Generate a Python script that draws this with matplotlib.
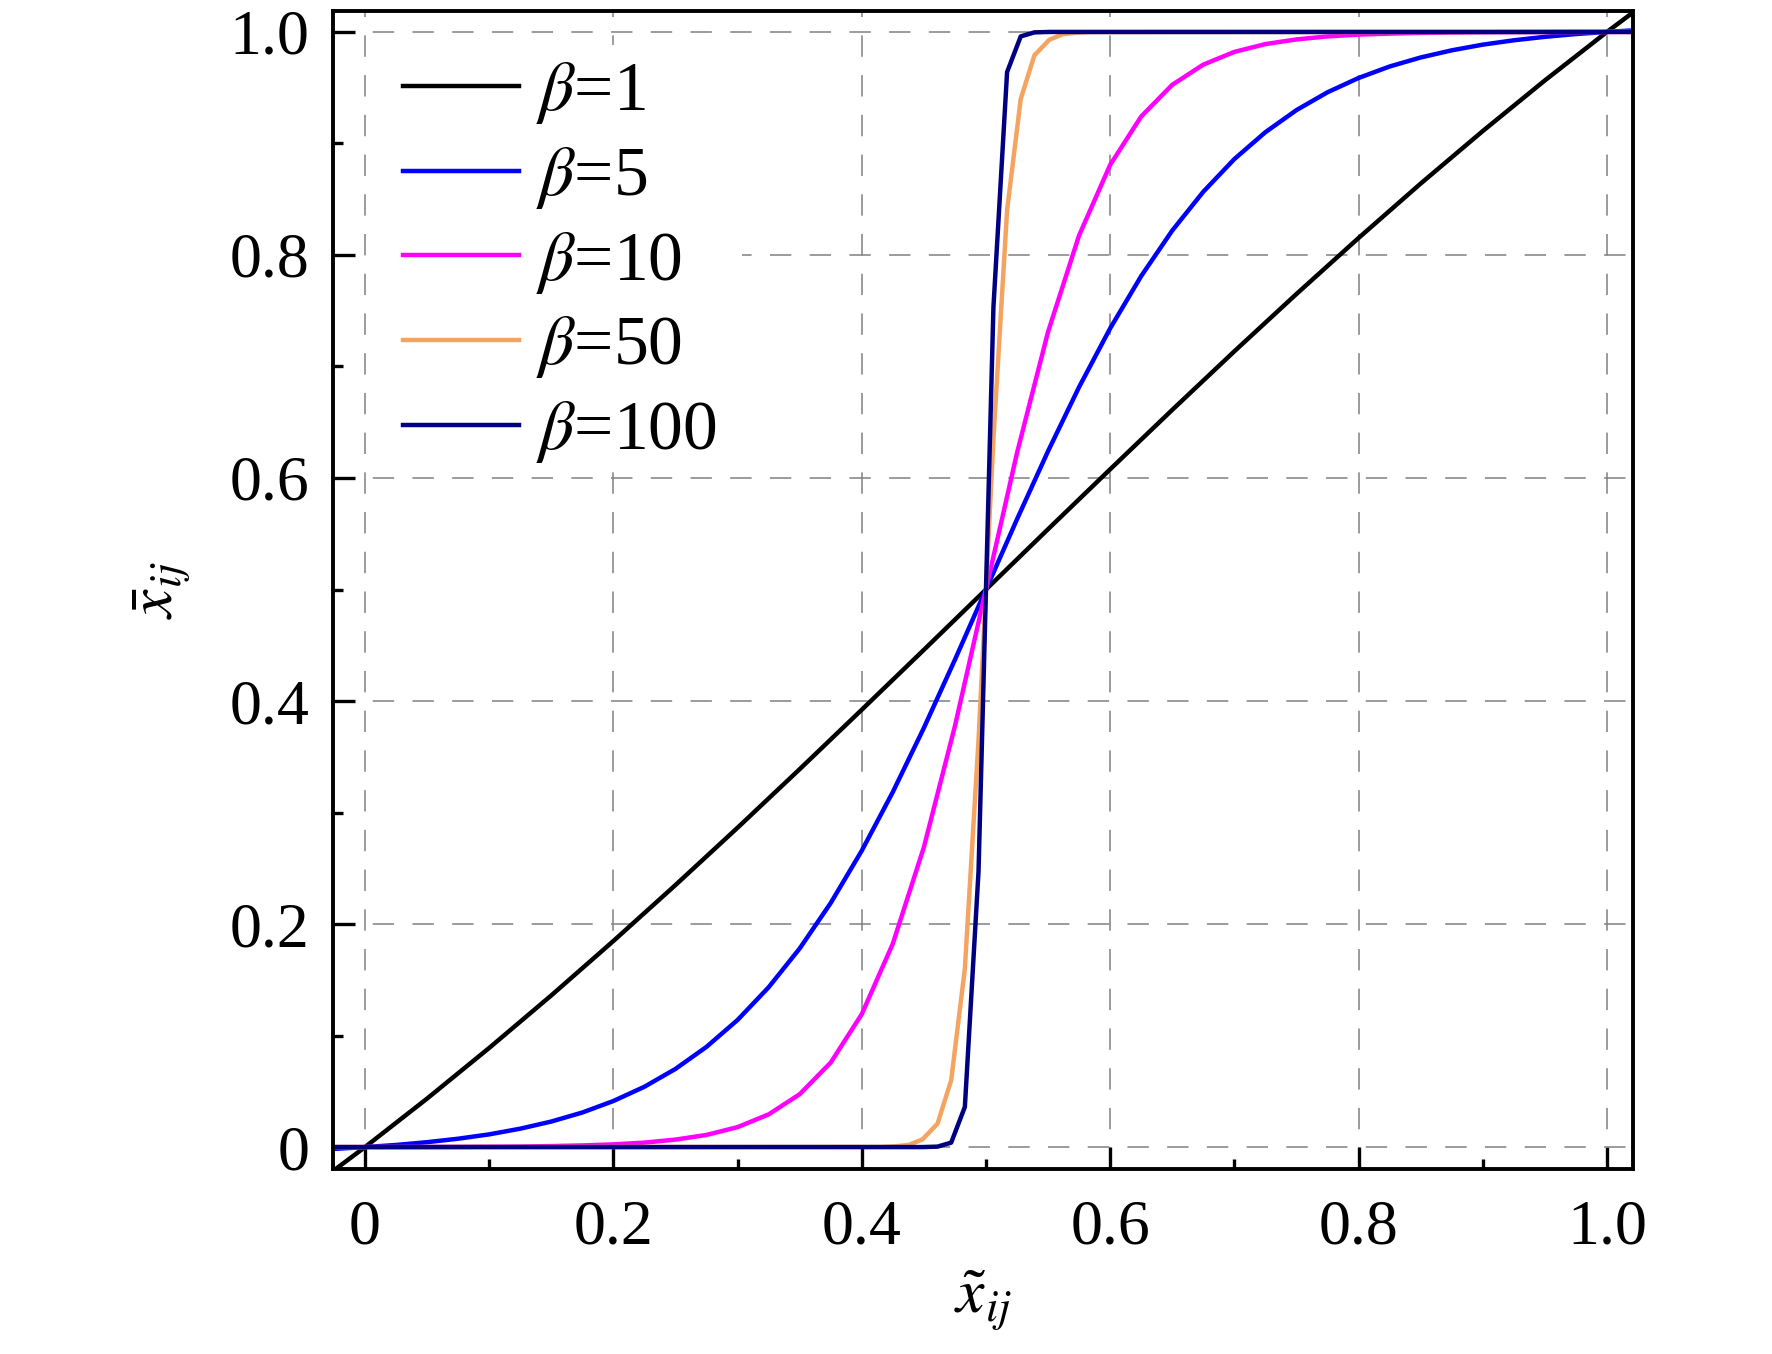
import numpy as np
import matplotlib
matplotlib.use("Agg")
import matplotlib.pyplot as plt
from matplotlib.patches import Rectangle
from matplotlib.ticker import MultipleLocator, FuncFormatter

plt.rcParams["font.family"] = ["Liberation Serif", "DejaVu Serif"]
plt.rcParams["mathtext.fontset"] = "stix"

# beta = 1 (almost straight), read every 0.05
x_b1 = [-0.03, 0.0, 0.05, 0.1, 0.15, 0.2, 0.25, 0.3, 0.35, 0.4, 0.45, 0.5,
        0.55, 0.6, 0.65, 0.7, 0.75, 0.8, 0.85, 0.9, 0.95, 1.0, 1.03]
y_b1 = [-0.025, 0.0, 0.0435, 0.0889, 0.1360, 0.1848, 0.2350, 0.2864, 0.3389,
        0.3922, 0.4459, 0.5, 0.5541, 0.6078, 0.6611, 0.7136, 0.7650, 0.8152,
        0.8640, 0.9111, 0.9565, 1.0, 1.025]

# beta = 5 and beta = 10, read every 0.025
x_smooth = [-0.03, 0.0, 0.025, 0.05, 0.075, 0.1, 0.125, 0.15, 0.175, 0.2,
            0.225, 0.25, 0.275, 0.3, 0.325, 0.35, 0.375, 0.4, 0.425, 0.45,
            0.475, 0.5, 0.525, 0.55, 0.575, 0.6, 0.625, 0.65, 0.675, 0.7,
            0.725, 0.75, 0.775, 0.8, 0.825, 0.85, 0.875, 0.9, 0.925, 0.95,
            0.975, 1.0, 1.03]
y_b5 = [-0.002, 0.0, 0.0019, 0.0044, 0.0075, 0.0114, 0.0165, 0.0229, 0.0310,
        0.0413, 0.0541, 0.0701, 0.0899, 0.1140, 0.1433, 0.1781, 0.2189,
        0.2658, 0.3184, 0.3759, 0.4370, 0.5, 0.5630, 0.6241, 0.6816, 0.7342,
        0.7811, 0.8219, 0.8567, 0.8860, 0.9101, 0.9299, 0.9459, 0.9587,
        0.9690, 0.9771, 0.9835, 0.9886, 0.9925, 0.9956, 0.9981, 1.0, 1.002]
y_b10 = [0.0, 0.0, 0.0, 0.0001, 0.0002, 0.0003, 0.0005, 0.0009, 0.0015,
         0.0024, 0.0040, 0.0067, 0.0109, 0.0179, 0.0293, 0.0474, 0.0758,
         0.1192, 0.1824, 0.2689, 0.3775, 0.5, 0.6225, 0.7311, 0.8176, 0.8808,
         0.9242, 0.9526, 0.9707, 0.9821, 0.9891, 0.9933, 0.9960, 0.9976,
         0.9985, 0.9991, 0.9995, 0.9997, 0.9998, 0.9999, 1.0, 1.0, 1.0]

# beta = 50 and beta = 100, read densely around the jump
x_steep = [-0.03, 0.0, 0.416, 0.427, 0.438, 0.449, 0.461, 0.472, 0.483, 0.494,
           0.506, 0.517, 0.528, 0.539, 0.551, 0.562, 0.573, 0.584, 1.0, 1.03]
y_b50 = [0.0, 0.0, 0.0002, 0.0007, 0.002, 0.007, 0.021, 0.060, 0.160, 0.365,
         0.635, 0.840, 0.940, 0.979, 0.993, 0.998, 0.9993, 0.9998, 1.0, 1.0]
y_b100 = [0.0, 0.0, 0.0, 0.0, 0.0, 0.0, 0.0004, 0.004, 0.036, 0.247,
          0.753, 0.964, 0.996, 0.9996, 1.0, 1.0, 1.0, 1.0, 1.0, 1.0]

series = [
    (x_b1, y_b1, "black", r"$\beta$=1"),
    (x_smooth, y_b5, "#0000ff", r"$\beta$=5"),
    (x_smooth, y_b10, "#ff00ff", r"$\beta$=10"),
    (x_steep, y_b50, "#f4a460", r"$\beta$=50"),
    (x_steep, y_b100, "#000080", r"$\beta$=100"),
]

fig = plt.figure(figsize=(17.72, 13.54), dpi=100)
ax = fig.add_axes([0.1879, 0.1366, 0.7336, 0.8553])

for xs, ys, col, lab in series:
    ax.plot(xs, ys, color=col, lw=3.2, label=lab)

ax.set_xlim(-0.0258, 1.0209)
ax.set_ylim(-0.0197, 1.0188)

ax.xaxis.set_major_locator(MultipleLocator(0.2))
ax.yaxis.set_major_locator(MultipleLocator(0.2))
ax.xaxis.set_minor_locator(MultipleLocator(0.1))
ax.yaxis.set_minor_locator(MultipleLocator(0.1))
fmt = FuncFormatter(lambda v, p: "0" if abs(v) < 1e-9 else "%.1f" % v)
ax.xaxis.set_major_formatter(fmt)
ax.yaxis.set_major_formatter(fmt)

ax.tick_params(which="both", direction="in", top=False, right=False,
               labelsize=46, width=2.4)
ax.tick_params(which="major", length=16)
ax.tick_params(which="minor", length=7)
ax.tick_params(axis="x", which="major", pad=22)
ax.tick_params(axis="y", which="major", pad=17)

for sp in ax.spines.values():
    sp.set_linewidth(2.8)

ax.set_axisbelow(True)
ax.grid(True, which="major", color="#808080", lw=1.1, linestyle=(0, (14, 12)))

ax.set_xlabel(r"$\tilde{x}_{ij}$", fontsize=46, labelpad=8)
ax.set_ylabel(r"$\bar{x}_{ij}$", fontsize=46, labelpad=26)

# white patch behind the legend hides the grid there (stops above y=0.6 line)
ax.add_patch(Rectangle((0.03, 0.606), 0.285, 0.365, transform=ax.transAxes,
                       facecolor="white", edgecolor="none", zorder=1.5))

leg = ax.legend(loc="upper left", bbox_to_anchor=(0.0536, 0.9575),
                borderaxespad=0, borderpad=0.0, fontsize=50, handlelength=1.67,
                handletextpad=0.25, labelspacing=0.27, frameon=False)

fig.savefig("out.png", dpi=100)
